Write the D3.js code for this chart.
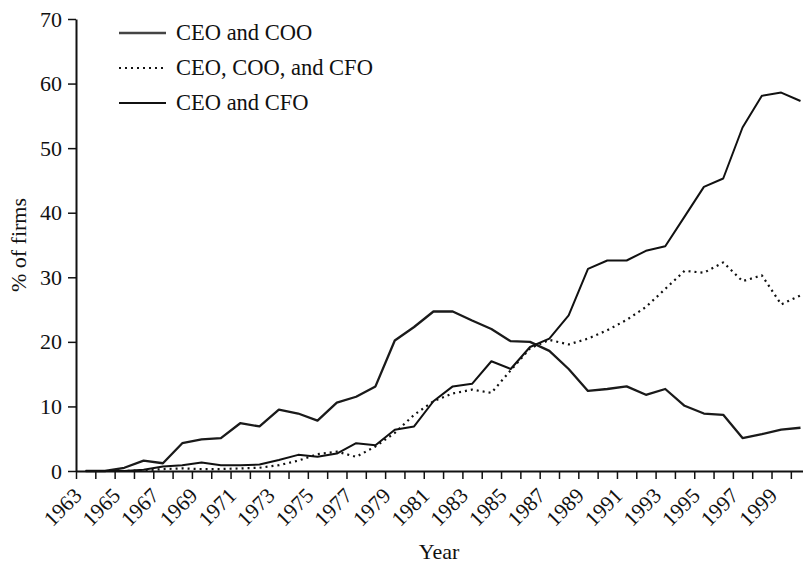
<!DOCTYPE html>
<html>
<head>
<meta charset="utf-8">
<script src="https://cdn.jsdelivr.net/npm/d3@7"></script>
<style>
  body { margin: 0; background: #fff; }
  text { font-family: "Liberation Serif", "Times New Roman", serif; fill: #111; }
</style>
</head>
<body>
<div id="chart"></div>
<script>
// years observed (each point is drawn at mid-year)
const years = [1963, 1964, 1965, 1966, 1967, 1968, 1969, 1970, 1971, 1972,
  1973, 1974, 1975, 1976, 1977, 1978, 1979, 1980, 1981, 1982,
  1983, 1984, 1985, 1986, 1987, 1988, 1989, 1990, 1991, 1992,
  1993, 1994, 1995, 1996, 1997, 1998, 1999, 2000];

const ceoCoo = [0, 0, 0.5, 1.6, 1.2, 4.3, 4.9, 5.1, 7.4, 6.9,
  9.5, 8.9, 7.8, 10.6, 11.5, 13.1, 20.2, 22.3, 24.7, 24.7,
  23.3, 22.0, 20.1, 20.0, 18.6, 15.8, 12.4, 12.7, 13.1, 11.8,
  12.7, 10.1, 8.9, 8.7, 5.1, 5.7, 6.4, 6.7];

const ceoCooCfo = [0, 0, 0, 0.1, 0.3, 0.4, 0.3, 0.3, 0.4, 0.5,
  0.9, 1.6, 2.6, 3.0, 2.2, 3.8, 5.9, 8.7, 10.8, 12.0,
  12.6, 12.1, 15.6, 19.0, 20.3, 19.6, 20.5, 21.8, 23.4, 25.4,
  28.2, 31.0, 30.7, 32.3, 29.4, 30.3, 25.8, 27.2];

const ceoCfo = [0, 0, 0, 0.2, 0.7, 0.9, 1.3, 0.9, 0.9, 1.0,
  1.7, 2.5, 2.2, 2.7, 4.3, 4.0, 6.4, 6.9, 10.8, 13.1,
  13.5, 17.0, 15.8, 19.2, 20.5, 24.1, 31.3, 32.6, 32.6, 34.1,
  34.8, 39.4, 44.0, 45.3, 53.2, 58.1, 58.6, 57.3];

const yTicks = [0, 10, 20, 30, 40, 50, 60, 70];
const xLabelYears = [1963, 1965, 1967, 1969, 1971, 1973, 1975, 1977, 1979, 1981,
  1983, 1985, 1987, 1989, 1991, 1993, 1995, 1997, 1999];

const seriesNames = ["CEO and COO", "CEO, COO, and CFO", "CEO and CFO"];

const width = 803, height = 565;
const margin = { left: 76, top: 19, bottom: 94 };

const svg = d3.select("#chart").append("svg")
  .attr("width", width)
  .attr("height", height);

const x = d3.scaleLinear()
  .domain([1963, 2001])
  .range([margin.left, margin.left + 38 * 19.32]);

const y = d3.scaleLinear()
  .domain([0, 70])
  .range([height - margin.bottom, margin.top]);

// x axis: a tick every year, a label every other year
const xAxis = d3.axisBottom(x)
  .tickValues(years)
  .tickSize(8)
  .tickSizeOuter(0)
  .tickFormat("");

const gx = svg.append("g")
  .attr("transform", `translate(0,${y(0)})`)
  .call(xAxis);
gx.select(".domain").attr("stroke", "#111").attr("stroke-width", 2);
gx.selectAll(".tick line").attr("stroke", "#111").attr("stroke-width", 1.5);

svg.append("g")
  .selectAll("text")
  .data(xLabelYears)
  .join("text")
  .attr("text-anchor", "end")
  .attr("font-size", 21.5)
  .attr("transform", d => `translate(${x(d) + 7},${y(0) + 26}) rotate(-45)`)
  .text(d => d);

const yAxis = d3.axisLeft(y)
  .tickValues(yTicks)
  .tickSize(8)
  .tickSizeOuter(0)
  .tickPadding(6);

const gy = svg.append("g")
  .attr("transform", `translate(${margin.left},0)`)
  .call(yAxis);
gy.select(".domain").attr("stroke", "#111").attr("stroke-width", 2);
gy.selectAll(".tick line").attr("stroke", "#111").attr("stroke-width", 1.5);
gy.selectAll(".tick text")
  .attr("font-size", 22)
  .attr("font-family", "Liberation Serif, serif")
  .attr("fill", "#111");

// axis titles
svg.append("text")
  .attr("x", 439)
  .attr("y", 559)
  .attr("text-anchor", "middle")
  .attr("font-size", 22)
  .text("Year");

svg.append("text")
  .attr("transform", `translate(26,${(y(0) + y(70)) / 2}) rotate(-90)`)
  .attr("text-anchor", "middle")
  .attr("font-size", 22)
  .text("% of firms");

// lines
const line = d3.line()
  .x((d, i) => x(years[i] + 0.5))
  .y(d => y(d));

const styles = [
  { data: ceoCoo, width: 2.3, dash: null, color: "#1a1a1a" },
  { data: ceoCooCfo, width: 2.2, dash: "2,4", color: "#111" },
  { data: ceoCfo, width: 2, dash: null, color: "#111" }
];

svg.append("g")
  .selectAll("path")
  .data(styles)
  .join("path")
  .attr("fill", "none")
  .attr("stroke", d => d.color)
  .attr("stroke-linejoin", "round")
  .attr("stroke-width", d => d.width)
  .attr("stroke-dasharray", d => d.dash)
  .attr("d", d => line(d.data));

// legend
const legend = svg.append("g")
  .selectAll("g")
  .data(styles)
  .join("g")
  .attr("transform", (d, i) => `translate(119,${33 + i * 35})`);

legend.append("line")
  .attr("x1", 0).attr("x2", 47)
  .attr("stroke", (d, i) => i === 0 ? "#444" : "#111")
  .attr("stroke-width", d => d.width)
  .attr("stroke-dasharray", d => d.dash);

legend.append("text")
  .attr("x", 57)
  .attr("dy", "0.33em")
  .attr("font-size", 22.5)
  .text((d, i) => seriesNames[i]);
</script>
</body>
</html>
